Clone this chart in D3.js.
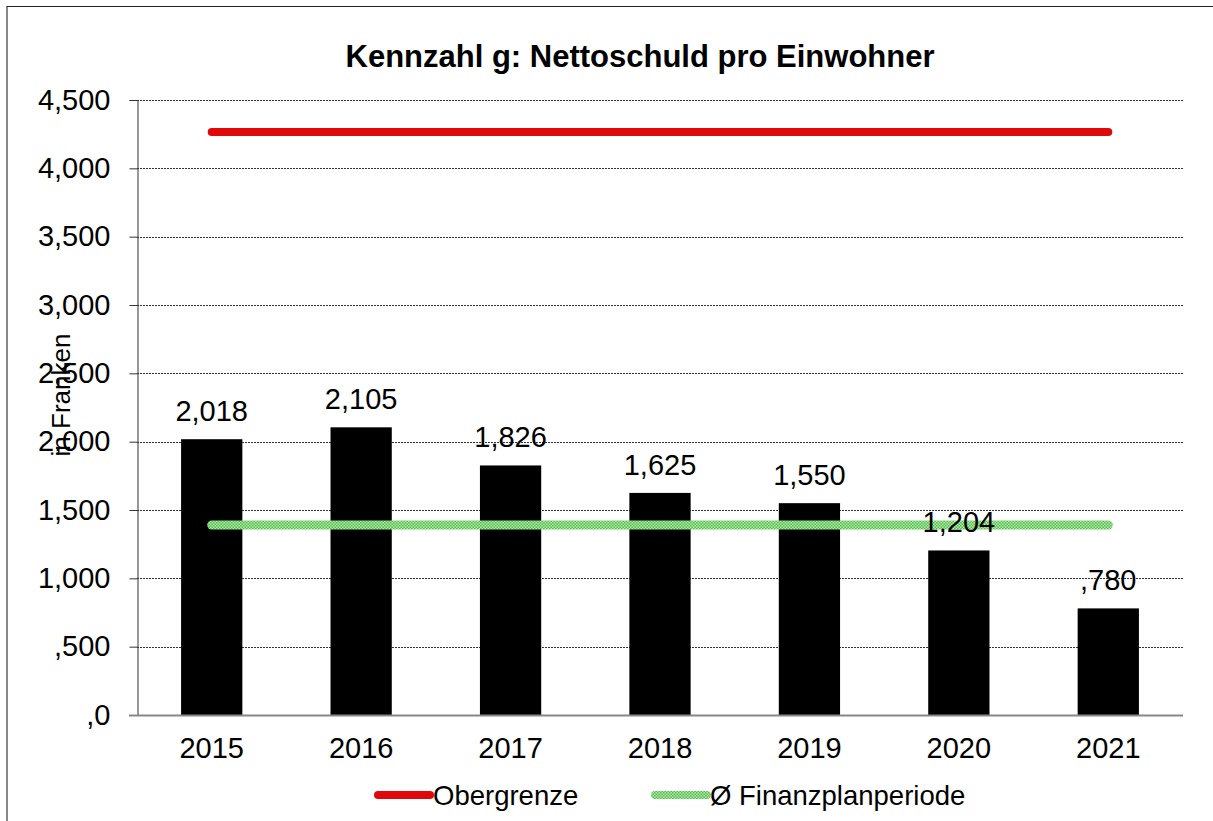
<!DOCTYPE html>
<html>
<head>
<meta charset="utf-8">
<script src="https://cdn.jsdelivr.net/npm/d3@7"></script>
<style>
  body { margin: 0; background: #fff; }
  svg { display: block; font-family: "Liberation Sans", Arial, sans-serif; }
</style>
</head>
<body>
<svg width="1213" height="821"></svg>
<script>
// chart data
var years = ["2015", "2016", "2017", "2018", "2019", "2020", "2021"];
var nettoschuld = [2018, 2105, 1826, 1625, 1550, 1204, 780];
var barLabels = ["2,018", "2,105", "1,826", "1,625", "1,550", "1,204", ",780"];
var obergrenze = [4265, 4265, 4265, 4265, 4265, 4265, 4265];
var finanzplan = [1390, 1390, 1390, 1390, 1390, 1390, 1390];
var yTicks = [0, 500, 1000, 1500, 2000, 2500, 3000, 3500, 4000, 4500];
var yTickLabels = [",0", ",500", "1,000", "1,500", "2,000", "2,500", "3,000", "3,500", "4,000", "4,500"];

(function() {
    var svg = d3.select('svg');
    var left = 137, right = 1183, top = 100, bottom = 715;

    var x = d3.scaleBand().domain(years).range([left, right]).paddingInner(0.59).paddingOuter(0.295);
    var y = d3.scaleLinear().domain([0, 4500]).range([bottom, top]);

    // green checker pattern
    var defs = svg.append('defs');
    var pat = defs.append('pattern').attr('id', 'checker').attr('patternUnits', 'userSpaceOnUse')
        .attr('width', 3).attr('height', 3);
    pat.append('rect').attr('width', 3).attr('height', 3).attr('fill', '#b5e8ad');
    pat.append('rect').attr('width', 1.5).attr('height', 1.5).attr('fill', '#4fbf4a');
    pat.append('rect').attr('x', 1.5).attr('y', 1.5).attr('width', 1.5).attr('height', 1.5).attr('fill', '#4fbf4a');

    // outer frame
    svg.append('line').attr('x1', 7).attr('x2', 7).attr('y1', 6).attr('y2', 821)
        .attr('stroke', '#888').attr('stroke-width', 2);
    svg.append('line').attr('x1', 7).attr('x2', 1213).attr('y1', 6.5).attr('y2', 6.5)
        .attr('stroke', '#222').attr('stroke-width', 1);

    // title
    svg.append('text').attr('x', 640).attr('y', 67).attr('text-anchor', 'middle')
        .style('font-size', '31px').style('font-weight', 'bold').text('Kennzahl g: Nettoschuld pro Einwohner');

    // gridlines
    svg.append('g').selectAll('line').data(yTicks.slice(1)).enter().append('line')
        .attr('x1', left).attr('x2', right)
        .attr('y1', function(d) { return Math.round(y(d)) + 0.5; })
        .attr('y2', function(d) { return Math.round(y(d)) + 0.5; })
        .attr('stroke', '#333').attr('stroke-width', 1).attr('stroke-dasharray', '2,1');

    // y axis
    var yAxis = d3.axisLeft(y).tickValues(yTicks).tickSize(8).tickPadding(19)
        .tickFormat(function(d, i) { return yTickLabels[i]; });
    var gy = svg.append('g').attr('transform', 'translate(' + (left + 0.5) + ',0)').call(yAxis);
    gy.select('.domain').attr('stroke', '#333');
    gy.selectAll('.tick line').attr('stroke', '#333');
    gy.selectAll('text').style('font-size', '29px').attr('fill', '#000').style('font-family', '"Liberation Sans", Arial, sans-serif');

    // y label
    svg.append('text').attr('transform', 'translate(70,395) rotate(-90)').attr('text-anchor', 'middle')
        .style('font-size', '26px').text('in Franken');

    // bars
    svg.append('g').selectAll('rect').data(nettoschuld).enter().append('rect')
        .attr('x', function(d, i) { return x(years[i]); })
        .attr('width', x.bandwidth())
        .attr('y', function(d) { return y(d); })
        .attr('height', function(d) { return bottom - y(d); })
        .attr('fill', '#000');

    // x axis
    var xAxis = d3.axisBottom(x).tickSize(0).tickPadding(22);
    var gx = svg.append('g').attr('transform', 'translate(0,' + (bottom + 0.5) + ')').call(xAxis);
    gx.select('.domain').attr('stroke', '#888').attr('stroke-width', 2).attr('d', 'M' + (left - 8) + ',0H' + right);
    gx.selectAll('text').style('font-size', '29px').attr('fill', '#000').style('font-family', '"Liberation Sans", Arial, sans-serif');

    // reference lines
    var line = d3.line()
        .x(function(d, i) { return x(years[i]) + x.bandwidth() / 2; })
        .y(function(d) { return y(d); });
    svg.append('path').datum(obergrenze).attr('d', line).attr('fill', 'none')
        .attr('stroke', '#e00808').attr('stroke-width', 8).attr('stroke-linecap', 'round');
    svg.append('path').datum(finanzplan).attr('d', line).attr('fill', 'none')
        .attr('stroke', 'url(#checker)').attr('stroke-width', 9).attr('stroke-linecap', 'round');

    // data labels
    svg.append('g').selectAll('text').data(nettoschuld).enter().append('text')
        .attr('x', function(d, i) { return x(years[i]) + x.bandwidth() / 2; })
        .attr('y', function(d) { return y(d) - 18; })
        .attr('text-anchor', 'middle').style('font-size', '29px')
        .text(function(d, i) { return barLabels[i]; });

    // legend
    var legend = [
        { name: 'Obergrenze', x: 378, stroke: '#e00808', w: 8 },
        { name: '\u00d8 Finanzplanperiode', x: 655, stroke: 'url(#checker)', w: 8 }
    ];
    var lg = svg.append('g').selectAll('g').data(legend).enter().append('g');
    lg.append('line').attr('x1', function(d) { return d.x; }).attr('x2', function(d) { return d.x + 52; })
        .attr('y1', 795).attr('y2', 795)
        .attr('stroke', function(d) { return d.stroke; }).attr('stroke-width', function(d) { return d.w; })
        .attr('stroke-linecap', 'round');
    lg.append('text').attr('x', function(d) { return d.x + 55; }).attr('y', 805)
        .style('font-size', '27.5px').text(function(d) { return d.name; });
})();
</script>
</body>
</html>
